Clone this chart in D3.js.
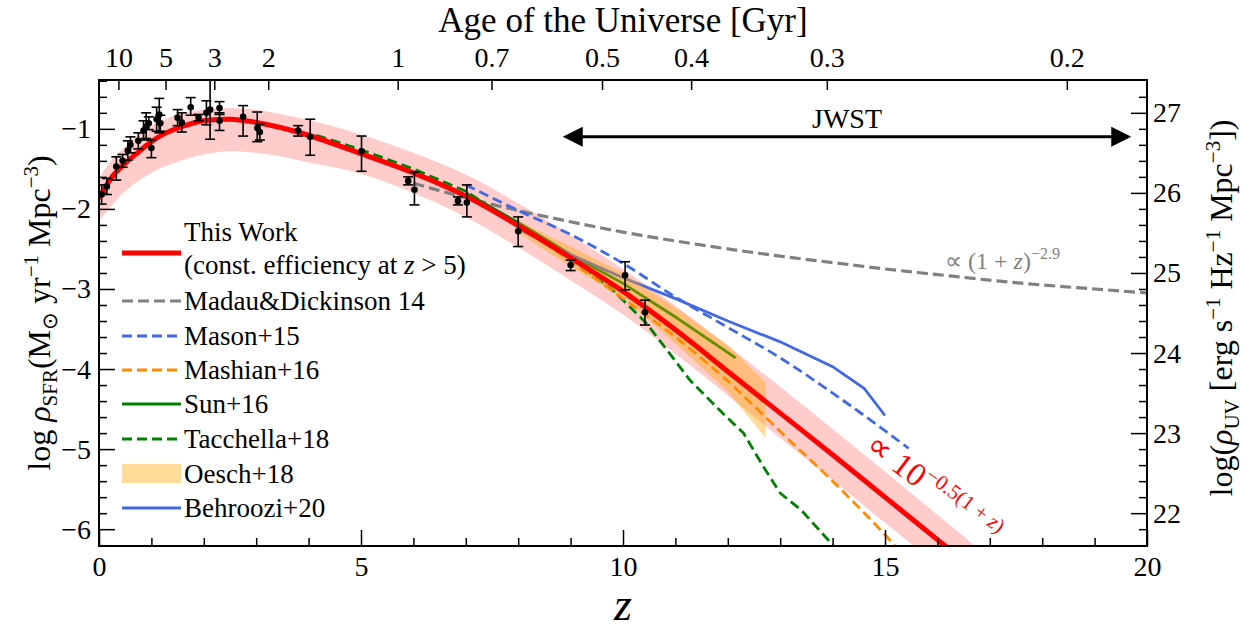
<!DOCTYPE html>
<html><head><meta charset="utf-8">
<script src="https://cdn.jsdelivr.net/npm/d3@7"></script>
<style>body{margin:0;background:#fff} text{font-family:"Liberation Serif","Times New Roman",serif}</style>
</head><body><svg id="c" width="1250" height="629"></svg>
<script>
// ---------------- DATA ----------------
// This Work (red line + band)
const redZ  = [0,0.25,0.5,0.75,1,1.25,1.5,2,2.5,3,3.5,4,5,6,7,8,9,10,11,12,13,14,15,16,17];
const redV  = [-1.87,-1.60,-1.43,-1.29,-1.16,-1.06,-0.99,-0.90,-0.88,-0.92,-0.99,-1.08,-1.31,-1.55,-1.84,-2.21,-2.61,-3.03,-3.51,-4.03,-4.55,-5.07,-5.60,-6.13,-6.66];
const redHi = [-1.62,-1.38,-1.22,-1.07,-0.96,-0.88,-0.82,-0.76,-0.74,-0.76,-0.82,-0.89,-1.07,-1.30,-1.57,-1.93,-2.33,-2.75,-3.21,-3.71,-4.22,-4.75,-5.28,-5.82,-6.36];
const redLo = [-2.15,-1.95,-1.78,-1.65,-1.55,-1.47,-1.41,-1.32,-1.28,-1.30,-1.35,-1.42,-1.56,-1.80,-2.10,-2.48,-2.89,-3.32,-3.81,-4.33,-4.86,-5.39,-5.92,-6.45,-6.98];
// Madau & Dickinson 14
const mdZ = [6,7,8,9,10,11,12,13,14,15,16,17,18,19,20];
const mdV = [-1.68,-1.86,-2.02,-2.16,-2.29,-2.40,-2.50,-2.59,-2.67,-2.75,-2.82,-2.89,-2.95,-3.00,-3.05];
// Mason+15
const masonZ = [7,8,9,10,11,12,13,14,15,15.45];
const masonV = [-1.70,-2.02,-2.32,-2.68,-3.10,-3.48,-3.86,-4.30,-4.77,-4.99];
// Mashian+16
const mashZ = [8,9,10,11,12,13,14,15,15.4];
const mashV = [-2.20,-2.65,-3.12,-3.60,-4.15,-4.78,-5.40,-6.07,-6.36];
// Sun+16
const sunZ = [7,8,9,10,11,12.15];
const sunV = [-1.80,-2.17,-2.57,-2.93,-3.35,-3.86];
// Tacchella+18
const tacZ = [4.15,5,6,7,8,9,9.8,10.45,11.28,11.9,12.3,12.68,13.0,13.4,13.95,14.2];
const tacV = [-1.08,-1.26,-1.50,-1.78,-2.21,-2.61,-3.01,-3.43,-4.14,-4.55,-4.80,-5.22,-5.55,-5.76,-6.16,-6.35];
// Oesch+18 band
const oeZ  = [8,9,10,11,12,12.72];
const oeHi = [-2.15,-2.47,-2.80,-3.23,-3.70,-4.17];
const oeLo = [-2.30,-2.72,-3.10,-3.68,-4.28,-4.86];
// Behroozi+20
const behZ = [8,9,10,11,12,13,14,14.6,15];
const behV = [-2.25,-2.57,-2.86,-3.12,-3.40,-3.66,-3.97,-4.24,-4.58];
// Observational points
const ptZ  = [0.05,0.15,0.33,0.45,0.55,0.60,0.75,0.85,0.90,0.95,1.00,1.10,1.15,1.17,1.50,1.58,1.75,1.90,2.05,2.12,2.30,2.30,2.75,3.02,3.07,3.80,4.03,5.01,5.90,6.02,6.85,7.02,8.0,9.0,10.04,10.42];
const ptV  = [-1.82,-1.72,-1.47,-1.40,-1.27,-1.20,-1.15,-1.02,-0.97,-0.93,-1.24,-0.88,-0.82,-0.93,-0.86,-0.92,-0.73,-0.86,-0.80,-0.76,-0.74,-0.90,-0.85,-0.99,-1.04,-1.02,-1.10,-1.28,-1.65,-1.76,-1.90,-1.92,-2.28,-2.70,-2.83,-3.29];
const ptLo = [0.12,0.10,0.17,0.08,0.12,0.10,0.10,0.12,0.15,0.08,0.12,0.15,0.23,0.10,0.10,0.12,0.10,0.04,0.15,0.37,0.08,0.12,0.24,0.17,0.10,0.07,0.23,0.25,0.05,0.19,0.05,0.18,0.19,0.07,0.18,0.16];
const ptHi = [0.12,0.10,0.12,0.08,0.12,0.10,0.10,0.12,0.17,0.08,0.10,0.15,0.20,0.10,0.10,0.12,0.12,0.04,0.15,0.45,0.08,0.10,0.14,0.20,0.10,0.06,0.22,0.19,0.05,0.22,0.05,0.22,0.18,0.06,0.17,0.15];
// Axes ticks
const xMajor = [0,5,10,15,20];
const xMinor = [1,2,3,4,6,7,8,9,11,12,13,14,16,17,18,19];
const yMajor = [-6,-5,-4,-3,-2,-1];
const yRMajor = [22,23,24,25,26,27];
const ageZ = [0.37,1.27,2.20,3.23,5.70,7.49,9.60,11.30,13.89,18.47];
const ageLabels = ["10","5","3","2","1","0.7","0.5","0.4","0.3","0.2"];
const uvOffset = 27.8;
const jwstZ = [8.85,19.7];
const jwstV = -1.10;

// ---------------- DRAW ----------------
const FONT = "'Liberation Serif','Times New Roman',serif";
const svg = d3.select("#c").attr("font-family",FONT);
const X0=99, X1=1147, Y0=80, Y1=546;
const x = d3.scaleLinear([0,20],[X0,X1]);
const y = d3.scaleLinear([-6.21,-0.39],[Y1,Y0]);
const yR = d3.scaleLinear([-6.21+uvOffset,-0.39+uvOffset],[Y1,Y0]);

svg.append("defs").append("clipPath").attr("id","clip")
  .append("rect").attr("x",X0).attr("y",Y0).attr("width",X1-X0).attr("height",Y1-Y0);
const plot = svg.append("g").attr("clip-path","url(#clip)");

const zip = (zs,vs)=>zs.map((z,i)=>[z,vs[i]]);
const line = (curve)=>d3.line().x(d=>x(d[0])).y(d=>y(d[1])).curve(curve||d3.curveMonotoneX);

// red band
plot.append("path")
  .datum(redZ.map((z,i)=>[z,redLo[i],redHi[i]]))
  .attr("d",d3.area().x(d=>x(d[0])).y0(d=>y(d[1])).y1(d=>y(d[2])).curve(d3.curveMonotoneX))
  .attr("fill","#ff0000").attr("fill-opacity",0.2);

function drawLine(zs,vs,color,w,dash,curve){
  plot.append("path").datum(zip(zs,vs)).attr("d",line(curve))
    .attr("fill","none").attr("stroke",color).attr("stroke-width",w)
    .attr("stroke-dasharray",dash||null);
}
drawLine(mdZ,mdV,"#808080",3.2,"11,5");
drawLine(masonZ,masonV,"#4169e1",2.8,"10,5");
drawLine(sunZ,sunV,"#008000",2.8,null,d3.curveLinear);
drawLine(behZ,behV,"#4169e1",2.8,null,d3.curveLinear);
drawLine(tacZ,tacV,"#008000",2.8,"10,5",d3.curveLinear);

// Oesch band
plot.append("path")
  .datum(oeZ.map((z,i)=>[z,oeLo[i],oeHi[i]]))
  .attr("d",d3.area().x(d=>x(d[0])).y0(d=>y(d[1])).y1(d=>y(d[2])).curve(d3.curveLinear))
  .attr("fill","#ffa500").attr("fill-opacity",0.4);

drawLine(mashZ,mashV,"#ff8c00",2.8,"10,5");
drawLine(redZ,redV,"#ff0000",5,null,d3.curveCatmullRom);

// points
const pts = ptZ.map((z,i)=>({z,v:ptV[i],lo:ptLo[i],hi:ptHi[i]}));
const pg = plot.append("g").attr("stroke","#000").attr("stroke-width",1.6);
pts.forEach(p=>{
  const cx=x(p.z), yl=y(p.v-p.lo), yh=y(p.v+p.hi);
  pg.append("line").attr("x1",cx).attr("x2",cx).attr("y1",yl).attr("y2",yh);
  pg.append("line").attr("x1",cx-5).attr("x2",cx+5).attr("y1",yl).attr("y2",yl);
  pg.append("line").attr("x1",cx-5).attr("x2",cx+5).attr("y1",yh).attr("y2",yh);
});
plot.append("g").selectAll("circle").data(pts).join("circle")
  .attr("cx",d=>x(d.z)).attr("cy",d=>y(d.v)).attr("r",3.3).attr("fill","#000");

// JWST arrow
const ay = y(jwstV), ax1 = x(jwstZ[0]), ax2 = x(jwstZ[1]);
svg.append("line").attr("x1",ax1+15).attr("x2",ax2-15).attr("y1",ay).attr("y2",ay)
  .attr("stroke","#000").attr("stroke-width",3);
svg.append("path").attr("d",`M${ax1},${ay}L${ax1+20},${ay-10}L${ax1+20},${ay+10}Z`).attr("fill","#000");
svg.append("path").attr("d",`M${ax2},${ay}L${ax2-20},${ay-10}L${ax2-20},${ay+10}Z`).attr("fill","#000");
svg.append("text").attr("x",(ax1+ax2)/2+0).attr("y",128).attr("text-anchor","middle")
  .attr("font-size",28).text("JWST");

// ---------------- AXES ----------------
function styleAxis(g){
  g.attr("font-family",FONT).attr("font-size",28);
  g.select(".domain").remove();
  g.selectAll("line").attr("stroke","#000").attr("stroke-width",1.5);
  g.selectAll("text").attr("fill","#000");
}
svg.append("g").attr("transform",`translate(0,${Y1})`)
  .call(d3.axisBottom(x).tickValues(xMajor).tickFormat(d3.format("d")).tickSize(-16).tickPadding(10))
  .call(styleAxis);
svg.append("g").attr("transform",`translate(0,${Y1})`)
  .call(d3.axisBottom(x).tickValues(xMinor).tickFormat("").tickSize(-8))
  .call(styleAxis);
svg.append("g").attr("transform",`translate(${X0},0)`)
  .call(d3.axisLeft(y).tickValues(yMajor).tickFormat(d3.format("d")).tickSize(-16).tickPadding(8))
  .call(styleAxis);
svg.append("g").attr("transform",`translate(${X0},0)`)
  .call(d3.axisLeft(y).tickValues(d3.range(-6.2,-0.39,0.2).filter(v=>Math.abs(v-Math.round(v))>0.01)).tickFormat("").tickSize(-8))
  .call(styleAxis);
svg.append("g").attr("transform",`translate(${X1},0)`)
  .call(d3.axisRight(yR).tickValues(yRMajor).tickFormat(d3.format("d")).tickSize(-16).tickPadding(6))
  .call(styleAxis);
svg.append("g").attr("transform",`translate(${X1},0)`)
  .call(d3.axisRight(yR).tickValues(d3.range(21.6,27.4,0.2).filter(v=>Math.abs(v-Math.round(v))>0.01)).tickFormat("").tickSize(-8))
  .call(styleAxis);
svg.append("g").attr("transform",`translate(0,${Y0})`)
  .call(d3.axisTop(x).tickValues(ageZ).tickFormat((d,i)=>ageLabels[i]).tickSize(-10).tickPadding(13))
  .call(styleAxis);

// frame
svg.append("rect").attr("x",X0).attr("y",Y0).attr("width",X1-X0).attr("height",Y1-Y0)
  .attr("fill","none").attr("stroke","#000").attr("stroke-width",2);

// axis titles
svg.append("text").attr("x",623).attr("y",32).attr("text-anchor","middle").attr("font-size",35)
  .text("Age of the Universe [Gyr]");
svg.append("text").attr("x",623).attr("y",620).attr("text-anchor","middle").attr("font-size",46)
  .attr("font-style","italic").text("z");

function richText(g,parts){
  const t=g.append("text");
  parts.forEach(p=>{
    const s=t.append("tspan").text(p.t).attr("font-size",p.fs);
    if(p.dy) s.attr("dy",p.dy);
    if(p.it) s.attr("font-style","italic");
  });
  return t;
}
const yl = svg.append("g").attr("transform","translate(50,313) rotate(-90)");
richText(yl,[
  {t:"log ",fs:32},{t:"ρ",fs:32,it:1},{t:"SFR",fs:21,dy:7},
  {t:"(M",fs:32,dy:-7},{t:"⊙",fs:21,dy:7},{t:" yr",fs:32,dy:-7},
  {t:"−1",fs:21,dy:-12},{t:" Mpc",fs:32,dy:12},{t:"−3",fs:21,dy:-12},{t:")",fs:32,dy:12}
]).attr("text-anchor","middle");
const yr = svg.append("g").attr("transform","translate(1232,308) rotate(-90)");
richText(yr,[
  {t:"log(",fs:32},{t:"ρ",fs:32,it:1},{t:"UV",fs:21,dy:7},
  {t:" [erg s",fs:32,dy:-7},{t:"−1",fs:21,dy:-12},{t:" Hz",fs:32,dy:12},
  {t:"−1",fs:21,dy:-12},{t:" Mpc",fs:32,dy:12},{t:"−3",fs:21,dy:-12},{t:"])",fs:32,dy:12}
]).attr("text-anchor","middle");

// annotations
const ga = svg.append("g");
richText(ga,[{t:"∝ (1 + ",fs:24},{t:"z",fs:24,it:1},{t:")",fs:24},{t:"−2.9",fs:16,dy:-10}])
  .attr("x",945).attr("y",269).attr("fill","#808080");
const ra = svg.append("g").attr("transform","translate(864,449) rotate(37)");
richText(ra,[{t:"∝ 10",fs:33},{t:"−0.5(1 + ",fs:21,dy:-13},{t:"z",fs:21,it:1},{t:")",fs:21}])
  .attr("fill","#ff0000");

// ---------------- LEGEND ----------------
const leg = svg.append("g");
const lx1=122, lx2=181, tx=184;
const legItems = [
  {y:301,label:"Madau&Dickinson 14",c:"#808080",w:3.2,d:"11,5"},
  {y:336,label:"Mason+15",c:"#4169e1",w:2.8,d:"10,5"},
  {y:370,label:"Mashian+16",c:"#ff8c00",w:2.8,d:"10,5"},
  {y:404,label:"Sun+16",c:"#008000",w:2.8,d:null},
  {y:439,label:"Tacchella+18",c:"#008000",w:2.8,d:"10,5"},
  {y:474,label:"Oesch+18",band:1},
  {y:508,label:"Behroozi+20",c:"#4169e1",w:2.8,d:null}
];
leg.append("line").attr("x1",lx1).attr("x2",lx2).attr("y1",253).attr("y2",253)
  .attr("stroke","#ff0000").attr("stroke-width",5);
leg.append("text").attr("x",tx).attr("y",241).attr("font-size",27).text("This Work");
richText(leg,[{t:"(const. efficiency at ",fs:27},{t:"z",fs:27,it:1},{t:" > 5)",fs:27}])
  .attr("x",tx).attr("y",274);
legItems.forEach(it=>{
  if(it.band){
    leg.append("rect").attr("x",lx1).attr("y",it.y-10).attr("width",lx2-lx1).attr("height",19)
      .attr("fill","#ffa500").attr("fill-opacity",0.4);
  } else {
    leg.append("line").attr("x1",lx1).attr("x2",lx2).attr("y1",it.y).attr("y2",it.y)
      .attr("stroke",it.c).attr("stroke-width",it.w).attr("stroke-dasharray",it.d);
  }
  leg.append("text").attr("x",tx).attr("y",it.y+9).attr("font-size",27).text(it.label);
});
</script></body></html>
